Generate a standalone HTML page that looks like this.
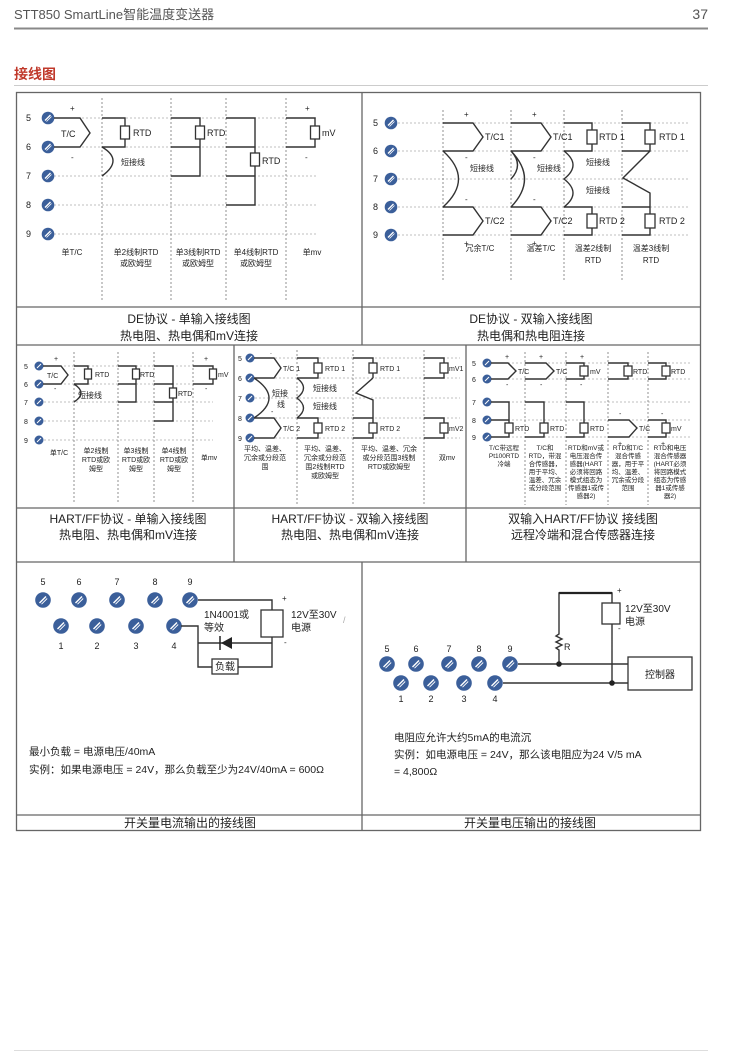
<!DOCTYPE html>
<html><head><meta charset="utf-8"><style>
html,body{margin:0;padding:0;background:#fff}
svg{display:block}
text{font-family:"Liberation Sans","Noto Sans CJK SC",sans-serif;fill:#222}
.w{stroke:#333;stroke-width:1.4;fill:none}
.d{stroke:#aaa;stroke-width:.8;stroke-dasharray:2 2;fill:none}
.v{stroke:#777;stroke-width:.8;stroke-dasharray:2 2;fill:none}
.b{stroke:#333;stroke-width:1.3;fill:#fff}
.f{stroke:#666;stroke-width:1.3;fill:none}
</style></head><body>
<svg width="733" height="1055" viewBox="0 0 733 1055" xmlns="http://www.w3.org/2000/svg">
<defs>
<g id="t"><circle r="6.3" fill="#3b5f9a"/><line x1="-3" y1="2.5" x2="2.5" y2="-3" stroke="#fff" stroke-width="1.3"/><line x1="-1.5" y1="3.5" x2="3.5" y2="-1.5" stroke="#fff" stroke-width="0.8"/></g>
<g id="ts"><circle r="4.5" fill="#3b5f9a"/><line x1="-2" y1="2" x2="2" y2="-2" stroke="#fff" stroke-width="1"/></g>
<g id="tb"><circle r="7.8" fill="#3b5f9a"/><line x1="-3.5" y1="3" x2="3" y2="-3.5" stroke="#fff" stroke-width="1.4"/><line x1="-1.5" y1="4.2" x2="4.2" y2="-1.5" stroke="#fff" stroke-width="0.9"/></g>
</defs>

<!-- header -->
<text x="14" y="19" font-size="13" fill="#555" style="fill:#555">STT850 SmartLine智能温度变送器</text>
<text x="708" y="19" font-size="14" text-anchor="end" style="fill:#555">37</text>
<line x1="14" y1="28.5" x2="708" y2="28.5" stroke="#888" stroke-width="2"/>
<text x="14" y="79" font-size="14" style="fill:#c0392b;font-weight:bold">接线图</text>
<line x1="14" y1="85.5" x2="708" y2="85.5" stroke="#ccc" stroke-width="1"/>

<!-- frame -->
<rect x="16.5" y="92.5" width="684" height="738" class="f"/>
<line x1="16" y1="307" x2="700" y2="307" class="f"/>
<line x1="16" y1="345" x2="700" y2="345" class="f"/>
<line x1="362" y1="92" x2="362" y2="345" class="f"/>
<line x1="16" y1="508" x2="700" y2="508" class="f"/>
<line x1="16" y1="562" x2="700" y2="562" class="f"/>
<line x1="234" y1="345" x2="234" y2="562" class="f"/>
<line x1="466" y1="345" x2="466" y2="562" class="f"/>
<line x1="16" y1="815" x2="700" y2="815" class="f"/>
<line x1="362" y1="562" x2="362" y2="830" class="f"/>

<!-- ===== Row1 Left ===== -->
<g>
<path class="d" d="M54 118H318M54 147H318M54 176H318M54 205H318M54 234H318"/>
<path class="v" d="M102 98V300M171 98V300M226 98V300M286 98V300"/>
<use href="#t" x="48" y="118"/><use href="#t" x="48" y="147"/><use href="#t" x="48" y="176"/><use href="#t" x="48" y="205"/><use href="#t" x="48" y="234"/>
<g font-size="9"><text x="26" y="121">5</text><text x="26" y="150">6</text><text x="26" y="179">7</text><text x="26" y="208">8</text><text x="26" y="237">9</text></g>
<path class="w" d="M54 118H80L90 133L80 147H54"/>
<text x="61" y="137" font-size="9">T/C</text>
<text x="70" y="111" font-size="8">+</text><text x="71" y="160" font-size="8">-</text>
<path class="w" d="M102 118H125V147H102"/><rect class="b" x="120.5" y="126" width="9" height="13"/>
<text x="133" y="136" font-size="9">RTD</text>
<path class="w" d="M102 147Q124 160 102 176"/>
<text x="121" y="165" font-size="8">短接线</text>
<path class="w" d="M171 118H200V176H171M171 147H200"/><rect class="b" x="195.5" y="126" width="9" height="13"/>
<text x="207" y="136" font-size="9">RTD</text>
<path class="w" d="M226 118H255V205H226M226 147H255M226 176H255"/><rect class="b" x="250.5" y="153" width="9" height="13"/>
<text x="262" y="164" font-size="9">RTD</text>
<path class="w" d="M286 118H315V147H286"/><rect class="b" x="310.5" y="126" width="9" height="13"/>
<text x="322" y="136" font-size="9">mV</text>
<text x="305" y="111" font-size="8">+</text><text x="305" y="160" font-size="8">-</text>
<g font-size="8" text-anchor="middle"><text x="72" y="255">单T/C</text>
<text x="136" y="255">单2线制RTD</text><text x="136" y="266">或欧姆型</text>
<text x="198" y="255">单3线制RTD</text><text x="198" y="266">或欧姆型</text>
<text x="256" y="255">单4线制RTD</text><text x="256" y="266">或欧姆型</text>
<text x="312" y="255">单mv</text></g>
<g font-size="12" text-anchor="middle"><text x="189" y="323">DE协议 - 单输入接线图</text><text x="189" y="340">热电阻、热电偶和mV连接</text></g>
</g>

<!-- ===== Row1 Right ===== -->
<g>
<path class="d" d="M398 123H690M398 151H690M398 179H690M398 207H690M398 235H690"/>
<path class="v" d="M443 110V282M511 110V282M564 110V282M622 110V282"/>
<use href="#t" x="391" y="123"/><use href="#t" x="391" y="151"/><use href="#t" x="391" y="179"/><use href="#t" x="391" y="207"/><use href="#t" x="391" y="235"/>
<g font-size="9"><text x="373" y="126">5</text><text x="373" y="154">6</text><text x="373" y="182">7</text><text x="373" y="210">8</text><text x="373" y="238">9</text></g>
<!-- col1 -->
<path class="w" d="M443 123H473L483 137L473 151H443M443 207H473L483 221L473 235H443M443 151Q474 179 443 207"/>
<text x="485" y="140" font-size="9">T/C1</text><text x="485" y="224" font-size="9">T/C2</text>
<text x="470" y="171" font-size="8">短接线</text>
<g font-size="8"><text x="464" y="117">+</text><text x="465" y="160">-</text><text x="465" y="202">-</text><text x="464" y="246">+</text></g>
<!-- col2 -->
<path class="w" d="M511 123H541L551 137L541 151H511M511 207H541L551 221L541 235H511M511 151Q538 179 511 207M511 151Q524 165 511 179"/>
<text x="553" y="140" font-size="9">T/C1</text><text x="553" y="224" font-size="9">T/C2</text>
<text x="537" y="171" font-size="8">短接线</text>
<g font-size="8"><text x="532" y="117">+</text><text x="533" y="160">-</text><text x="533" y="202">-</text><text x="532" y="246">+</text></g>
<!-- col3 -->
<path class="w" d="M564 123H592V151H564M564 207H592V235H564M564 151Q582 165 564 179Q582 193 564 207"/>
<rect class="b" x="587" y="130" width="10" height="14"/><rect class="b" x="587" y="214" width="10" height="14"/>
<text x="599" y="140" font-size="9">RTD 1</text><text x="599" y="224" font-size="9">RTD 2</text>
<text x="586" y="165" font-size="8">短接线</text><text x="586" y="193" font-size="8">短接线</text>
<!-- col4 -->
<path class="w" d="M622 123H650V151H622M650 151L623 178L650 193V207H622M650 207V235H622"/>
<rect class="b" x="645" y="130" width="10" height="14"/><rect class="b" x="645" y="214" width="10" height="14"/>
<text x="659" y="140" font-size="9">RTD 1</text><text x="659" y="224" font-size="9">RTD 2</text>
<g font-size="8" text-anchor="middle"><text x="480" y="251">冗余T/C</text><text x="541" y="251">温差T/C</text>
<text x="593" y="251">温差2线制</text><text x="593" y="263">RTD</text>
<text x="651" y="251">温差3线制</text><text x="651" y="263">RTD</text></g>
<g font-size="12" text-anchor="middle"><text x="531" y="323">DE协议 - 双输入接线图</text><text x="531" y="340">热电偶和热电阻连接</text></g>
</g>

<!-- ===== Row2 Left ===== -->
<g>
<path class="d" d="M44 366H213M44 384H213M44 402H213M44 421H213M44 440H213"/>
<path class="v" d="M74 352V502M118 352V502M154 352V502M193 352V502"/>
<use href="#ts" x="39" y="366"/><use href="#ts" x="39" y="384"/><use href="#ts" x="39" y="402"/><use href="#ts" x="39" y="421"/><use href="#ts" x="39" y="440"/>
<g font-size="7"><text x="24" y="369">5</text><text x="24" y="387">6</text><text x="24" y="405">7</text><text x="24" y="424">8</text><text x="24" y="443">9</text></g>
<path class="w" d="M43 366H61L68 375L61 384H43"/>
<text x="47" y="378" font-size="7">T/C</text>
<text x="54" y="361" font-size="7">+</text><text x="54" y="391" font-size="7">-</text>
<path class="w" d="M74 366H88V384H74M74 384Q88 393 74 402"/><rect class="b" x="84.5" y="369" width="7" height="10"/>
<text x="95" y="377" font-size="7">RTD</text>
<text x="78" y="398" font-size="8">短接线</text>
<path class="w" d="M118 366H136V402H118M118 384H136"/><rect class="b" x="132.5" y="369" width="7" height="10"/>
<text x="140" y="377" font-size="7">RTD</text>
<path class="w" d="M154 366H173V421H154M154 384H173M154 402H173"/><rect class="b" x="169.5" y="388" width="7" height="10"/>
<text x="178" y="396" font-size="7">RTD</text>
<path class="w" d="M193 366H213V384H193"/><rect class="b" x="209.5" y="369" width="7" height="10"/>
<text x="218" y="377" font-size="7">mV</text>
<text x="204" y="361" font-size="7">+</text><text x="205" y="391" font-size="7">-</text>
<g font-size="7" text-anchor="middle"><text x="59" y="455">单T/C</text>
<text x="96" y="453">单2线制</text><text x="96" y="462">RTD或欧</text><text x="96" y="471">姆型</text>
<text x="136" y="453">单3线制</text><text x="136" y="462">RTD或欧</text><text x="136" y="471">姆型</text>
<text x="174" y="453">单4线制</text><text x="174" y="462">RTD或欧</text><text x="174" y="471">姆型</text>
<text x="209" y="460">单mv</text></g>
<g font-size="12" text-anchor="middle"><text x="128" y="523">HART/FF协议 - 单输入接线图</text><text x="128" y="539">热电阻、热电偶和mV连接</text></g>
</g>

<!-- ===== Row2 Middle ===== -->
<g>
<path class="d" d="M255 358H460M255 378H460M255 398H460M255 418H460M255 438H460"/>
<path class="v" d="M297 350V505M353 350V505M424 350V505"/>
<use href="#ts" x="250" y="358"/><use href="#ts" x="250" y="378"/><use href="#ts" x="250" y="398"/><use href="#ts" x="250" y="418"/><use href="#ts" x="250" y="438"/>
<g font-size="7"><text x="238" y="361">5</text><text x="238" y="381">6</text><text x="238" y="401">7</text><text x="238" y="421">8</text><text x="238" y="441">9</text></g>
<path class="w" d="M254 358H274L281 368L274 378H254M254 418H274L281 428L274 438H254M254 378Q284 398 254 418"/>
<text x="283" y="371" font-size="7">T/C 1</text><text x="283" y="431" font-size="7">T/C 2</text>
<text x="272" y="396" font-size="8">短接</text><text x="277" y="407" font-size="8">线</text>
<g font-size="7"><text x="270" y="354">.</text><text x="271" y="414">-</text></g>
<path class="w" d="M297 358H318V378H297M297 418H318V438H297M297 378Q310 388 297 398Q310 408 297 418"/>
<rect class="b" x="314" y="363" width="8" height="10"/><rect class="b" x="314" y="423" width="8" height="10"/>
<text x="325" y="371" font-size="7">RTD 1</text><text x="325" y="431" font-size="7">RTD 2</text>
<text x="313" y="391" font-size="8">短接线</text><text x="313" y="409" font-size="8">短接线</text>
<path class="w" d="M353 358H373V378M373 378L356 393L373 400V438H353M353 418H373"/>
<rect class="b" x="369" y="363" width="8" height="10"/><rect class="b" x="369" y="423" width="8" height="10"/>
<text x="380" y="371" font-size="7">RTD 1</text><text x="380" y="431" font-size="7">RTD 2</text>
<path class="w" d="M424 358H444V378H424M424 418H444V438H424"/>
<rect class="b" x="440" y="363" width="8" height="10"/><rect class="b" x="440" y="423" width="8" height="10"/>
<text x="449" y="371" font-size="7">mV1</text><text x="449" y="431" font-size="7">mV2</text>
<g font-size="7" text-anchor="middle">
<text x="265" y="451">平均、温差、</text><text x="265" y="460">冗余或分段范</text><text x="265" y="469">围</text>
<text x="325" y="451">平均、温差、</text><text x="325" y="460">冗余或分段范</text><text x="325" y="469">围2线制RTD</text><text x="325" y="478">或欧姆型</text>
<text x="389" y="451">平均、温差、冗余</text><text x="389" y="460">或分段范围3线制</text><text x="389" y="469">RTD或欧姆型</text>
<text x="447" y="460">双mv</text></g>
<g font-size="12" text-anchor="middle"><text x="350" y="523">HART/FF协议 - 双输入接线图</text><text x="350" y="539">热电阻、热电偶和mV连接</text></g>
</g>

<!-- ===== Row2 Right ===== -->
<g>
<path class="d" d="M492 363H690M492 379H690M492 402H690M492 420H690M492 437H690"/>
<path class="v" d="M525 352V505M566 352V505M608 352V505M648 352V505"/>
<use href="#ts" x="487" y="363"/><use href="#ts" x="487" y="379"/><use href="#ts" x="487" y="402"/><use href="#ts" x="487" y="420"/><use href="#ts" x="487" y="437"/>
<g font-size="7"><text x="472" y="366">5</text><text x="472" y="382">6</text><text x="472" y="405">7</text><text x="472" y="423">8</text><text x="472" y="440">9</text></g>
<path class="w" d="M491 363H508L516 371L508 379H491M491 402H509V437H491M491 420H509"/>
<rect class="b" x="505" y="423" width="8" height="10"/><text x="515" y="431" font-size="7">RTD</text>
<text x="518" y="374" font-size="7">T/C</text>
<path class="w" d="M525 363H546L554 371L546 379H525M525 402H544V437H525"/>
<rect class="b" x="540" y="423" width="8" height="10"/><text x="550" y="431" font-size="7">RTD</text>
<text x="556" y="374" font-size="7">T/C</text>
<path class="w" d="M566 363H584V379H566M566 402H584V437H566"/>
<rect class="b" x="580" y="366" width="8" height="10"/><text x="590" y="374" font-size="7">mV</text>
<rect class="b" x="580" y="423" width="8" height="10"/><text x="590" y="431" font-size="7">RTD</text>
<path class="w" d="M608 363H628V379H608M608 420H629L637 428L629 437H608"/>
<rect class="b" x="624" y="366" width="8" height="10"/><text x="633" y="374" font-size="7">RTD</text>
<text x="639" y="431" font-size="7">T/C</text>
<path class="w" d="M648 363H666V379H648M648 420H666V437H648"/>
<rect class="b" x="662" y="366" width="8" height="10"/><text x="671" y="374" font-size="7">RTD</text>
<rect class="b" x="662" y="423" width="8" height="10"/><text x="671" y="431" font-size="7">mV</text>
<g font-size="7"><text x="505" y="359">+</text><text x="539" y="359">+</text><text x="580" y="359">+</text><text x="506" y="387">-</text><text x="540" y="387">-</text><text x="580" y="387">-</text><text x="619" y="416">-</text><text x="661" y="416">-</text><text x="618" y="446">+</text><text x="661" y="446">+</text></g>
<g font-size="6.5" text-anchor="middle">
<text x="504" y="450">T/C带远程</text><text x="504" y="458">Pt100RTD</text><text x="504" y="466">冷端</text>
<text x="545" y="450">T/C和</text><text x="545" y="458">RTD，带混</text><text x="545" y="466">合传感器，</text><text x="545" y="474">用于平均、</text><text x="545" y="482">温差、冗余</text><text x="545" y="490">或分段范围</text>
<text x="586" y="450">RTD和mV或</text><text x="586" y="458">电压混合传</text><text x="586" y="466">感器(HART</text><text x="586" y="474">必须将回路</text><text x="586" y="482">模式组态为</text><text x="586" y="490">传感器1或传</text><text x="586" y="498">感器2)</text>
<text x="628" y="450">RTD和T/C</text><text x="628" y="458">混合传感</text><text x="628" y="466">器，用于平</text><text x="628" y="474">均、温差、</text><text x="628" y="482">冗余或分段</text><text x="628" y="490">范围</text>
<text x="670" y="450">RTD和电压</text><text x="670" y="458">混合传感器</text><text x="670" y="466">(HART必须</text><text x="670" y="474">将回路模式</text><text x="670" y="482">组态为传感</text><text x="670" y="490">器1或传感</text><text x="670" y="498">器2)</text></g>
<g font-size="12" text-anchor="middle"><text x="583" y="523">双输入HART/FF协议 接线图</text><text x="583" y="539">远程冷端和混合传感器连接</text></g>
</g>

<!-- ===== Row3 Left ===== -->
<g>
<g font-size="9" text-anchor="middle"><text x="43" y="585">5</text><text x="79" y="585">6</text><text x="117" y="585">7</text><text x="155" y="585">8</text><text x="190" y="585">9</text>
<text x="61" y="649">1</text><text x="97" y="649">2</text><text x="136" y="649">3</text><text x="174" y="649">4</text></g>
<use href="#tb" x="43" y="600"/><use href="#tb" x="79" y="600"/><use href="#tb" x="117" y="600"/><use href="#tb" x="155" y="600"/><use href="#tb" x="190" y="600"/>
<use href="#tb" x="61" y="626"/><use href="#tb" x="97" y="626"/><use href="#tb" x="136" y="626"/><use href="#tb" x="174" y="626"/>
<path class="w" d="M198 600H272V610M272 637V667H198V626H181M198 643H272"/>
<rect class="b" x="261" y="610" width="22" height="27"/>
<path d="M221 643L232 637V649Z" fill="#222"/><line x1="220" y1="636" x2="220" y2="650" stroke="#222" stroke-width="1.5"/>
<rect class="b" x="212" y="659" width="26" height="15"/><text x="225" y="670" font-size="10" text-anchor="middle">负载</text>
<text x="204" y="618" font-size="10">1N4001或</text><text x="204" y="631" font-size="10">等效</text>
<text x="291" y="618" font-size="10">12V至30V</text><text x="291" y="631" font-size="10">电源</text>
<text x="282" y="601" font-size="8">+</text><text x="284" y="645" font-size="8">-</text>
<text x="343" y="623" font-size="9" fill="#aaa" style="fill:#aaa">/</text>
<text x="29" y="755" font-size="10.5">最小负载 = 电源电压/40mA</text>
<text x="29" y="773" font-size="10.5">实例：如果电源电压 = 24V，那么负载至少为24V/40mA = 600Ω</text>
<text x="190" y="827" font-size="12" text-anchor="middle">开关量电流输出的接线图</text>
</g>

<!-- ===== Row3 Right ===== -->
<g>
<g font-size="9" text-anchor="middle"><text x="387" y="652">5</text><text x="416" y="652">6</text><text x="449" y="652">7</text><text x="479" y="652">8</text><text x="510" y="652">9</text>
<text x="401" y="702">1</text><text x="431" y="702">2</text><text x="464" y="702">3</text><text x="495" y="702">4</text></g>
<use href="#tb" x="387" y="664"/><use href="#tb" x="416" y="664"/><use href="#tb" x="449" y="664"/><use href="#tb" x="479" y="664"/><use href="#tb" x="510" y="664"/>
<use href="#tb" x="401" y="683"/><use href="#tb" x="431" y="683"/><use href="#tb" x="464" y="683"/><use href="#tb" x="495" y="683"/>
<path class="w" d="M518 664H628M503 683H628M559 664V650L556 648L562 645L556 642L562 639L556 636L559 634V593H612V603M612 624V683"/>
<line x1="559" y1="593" x2="612" y2="593" stroke="#222" stroke-width="2.2"/>
<rect class="b" x="602" y="603" width="18" height="21"/>
<circle cx="559" cy="664" r="2.8" fill="#222"/><circle cx="612" cy="683" r="2.8" fill="#222"/>
<rect class="b" x="628" y="657" width="64" height="33"/>
<text x="660" y="678" font-size="10" text-anchor="middle">控制器</text>
<text x="564" y="650" font-size="9">R</text>
<text x="617" y="593" font-size="8">+</text><text x="618" y="631" font-size="8">-</text>
<text x="625" y="612" font-size="10">12V至30V</text><text x="625" y="625" font-size="10">电源</text>
<text x="394" y="741" font-size="10.5">电阻应允许大约5mA的电流沉</text>
<text x="394" y="758" font-size="10.5">实例：如电源电压 = 24V，那么该电阻应为24 V/5 mA</text>
<text x="394" y="775" font-size="10.5">= 4,800Ω</text>
<text x="530" y="827" font-size="12" text-anchor="middle">开关量电压输出的接线图</text>
</g>

<line x1="14" y1="1050.5" x2="708" y2="1050.5" stroke="#ddd" stroke-width="1"/>
</svg>
</body></html>
